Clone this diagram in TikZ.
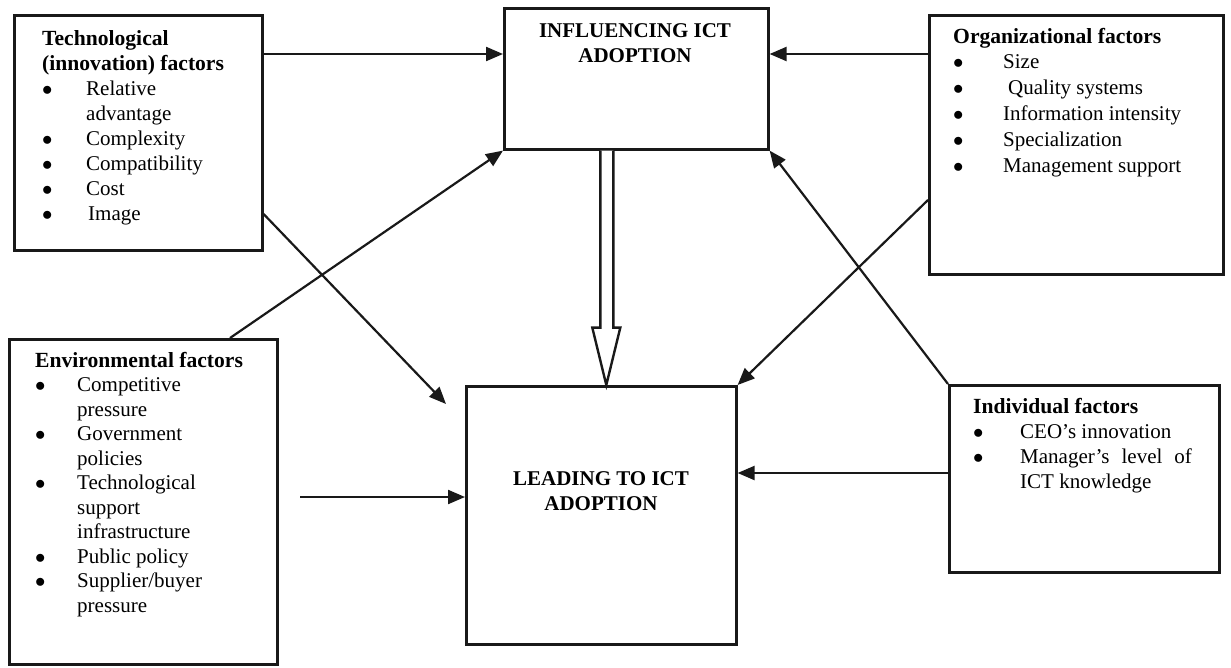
\documentclass[tikz,border=0pt]{standalone}
\usepackage{fontspec}
\setmainfont{Liberation Serif}
\usetikzlibrary{arrows.meta,calc}
\newcommand\boxhead[1]{\multicolumn{2}{@{}l@{}}{\fontsize{21.6}{25}\selectfont\bfseries #1}}
\newcommand\bul{$\bullet$}
\begin{document}
\begin{tikzpicture}[x=1pt,y=-1pt,
  box/.style={draw=black!90, line width=2.6pt, rectangle, anchor=north west, inner sep=0pt},
  txt/.style={anchor=base west, inner sep=0pt, align=left},
  ttl/.style={anchor=base, inner sep=0pt, font=\bfseries},
  conn/.style={draw=black!90, line width=2.2pt, -{Triangle[length=17pt,width=14pt]}},
  hollow/.style={draw=black!90, line width=2.4pt, fill=white, line join=miter}]
\useasboundingbox[fill=white] (0,0) rectangle (1231,667);

% boxes
\node[box, minimum width=248pt, minimum height=235pt] (tech) at (13,14) {};
\node[box, minimum width=264pt, minimum height=141pt] (infl) at (503,7) {};
\node[box, minimum width=294pt, minimum height=259pt] (org) at (928,14) {};
\node[box, minimum width=268pt, minimum height=325pt] (env) at (8,338) {};
\node[box, minimum width=270pt, minimum height=258pt] (lead) at (465,385) {};
\node[box, minimum width=270pt, minimum height=187pt] (ind) at (948,384) {};

% texts
\node[txt] (techtxt) at (42,45) {\fontsize{21}{25}\selectfont
  \begin{tabular}[t]{@{}p{44pt}@{}l@{}}
  \boxhead{Technological}\\
  \boxhead{(innovation) factors}\\
  \bul & Relative\\
   & advantage\\
  \bul & Complexity\\
  \bul & Compatibility\\
  \bul & Cost\\
  \bul & \hspace{2pt}Image
  \end{tabular}};

\node[txt] (orgtxt) at (953,43) {\fontsize{21}{25.8}\selectfont
  \begin{tabular}[t]{@{}p{50pt}@{}l@{}}
  \boxhead{Organizational factors}\\
  \bul & Size\\
  \bul & \hspace{5pt}Quality systems\\
  \bul & Information intensity\\
  \bul & Specialization\\
  \bul & Management support
  \end{tabular}};

\node[txt] (envtxt) at (35,367) {\fontsize{21}{24.5}\selectfont
  \begin{tabular}[t]{@{}p{42pt}@{}l@{}}
  \boxhead{Environmental factors}\\
  \bul & Competitive\\
   & pressure\\
  \bul & Government\\
   & policies\\
  \bul & Technological\\
   & support\\
   & infrastructure\\
  \bul & Public policy\\
  \bul & Supplier/buyer\\
   & pressure
  \end{tabular}};

\node[txt] (indtxt) at (973,413) {\fontsize{21}{25}\selectfont
  \begin{tabular}[t]{@{}p{47pt}@{}l@{}}
  \boxhead{Individual factors}\\
  \bul & CEO’s innovation\\
  \bul & Manager’s\hspace{12pt}level\hspace{12pt}of\\
   & ICT knowledge
  \end{tabular}};

\node[ttl] (infltxt) at (635,37) {\fontsize{21}{25}\selectfont
  \begin{tabular}[t]{@{}c@{}}INFLUENCING ICT\\ ADOPTION\end{tabular}};
\node[ttl] (leadtxt) at (601,485) {\fontsize{21}{25}\selectfont
  \begin{tabular}[t]{@{}c@{}}LEADING TO ICT\\ ADOPTION\end{tabular}};

% free ends
\coordinate (techend) at (446,404);
\coordinate (envstart) at (300,497);

% connectors
\draw[conn] ([yshift=-40pt]tech.north east) -- ([yshift=-47pt]infl.north west);
\draw[conn] ([yshift=-40pt]org.north west) -- ([yshift=-47pt]infl.north east);
\draw[conn] ([xshift=222pt]env.north west) -- (infl.south west);
\draw[conn] ([yshift=-200pt]tech.north east) -- (techend);
\draw[conn] ([yshift=-186pt]org.north west) -- (lead.north east);
\draw[conn] (ind.north west) -- (infl.south east);
\draw[conn] (envstart) -- ([yshift=-112pt]lead.north west);
\draw[conn] ([yshift=-89pt]ind.north west) -- ([yshift=-88pt]lead.north east);

% hollow block arrow from influencing to leading
\draw[hollow] ([xshift=-36pt]infl.south) -- ++(0,177) -- ++(-8,0)
  -- ([xshift=-30pt]infl.south |- lead.north)
  -- ([xshift=-16pt,yshift=-177pt]infl.south |- infl.south) -- ++(-7,0)
  -- ([xshift=-23pt]infl.south);
\end{tikzpicture}
\end{document}
